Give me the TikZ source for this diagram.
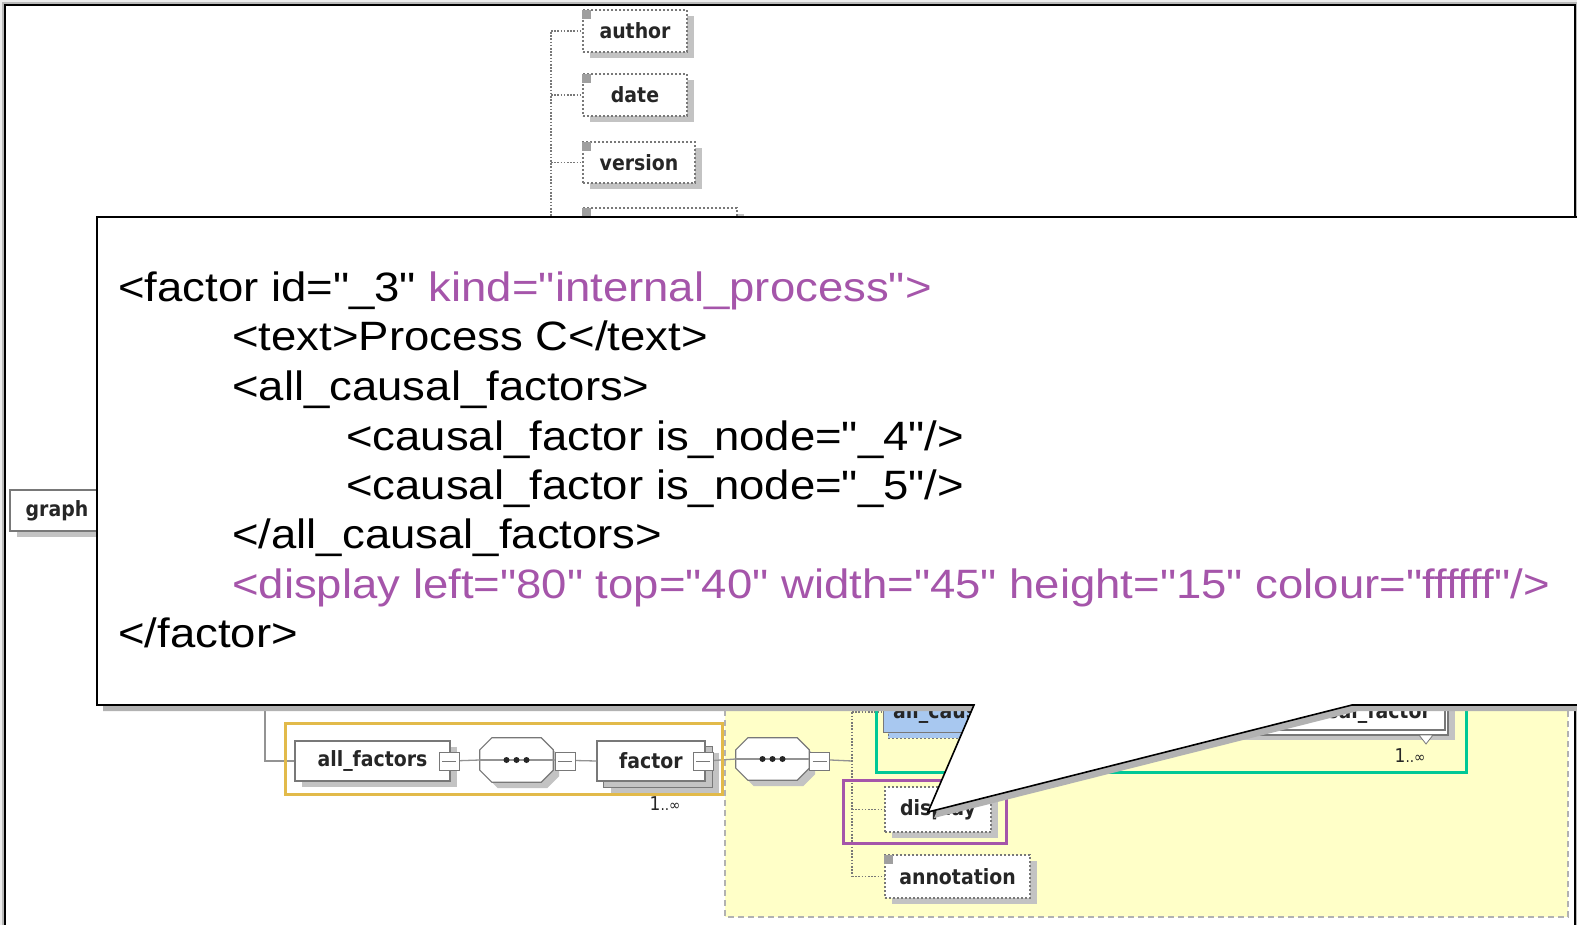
\documentclass[tikz,border=0pt]{standalone}
\usepackage{fontspec}
\setmainfont{Liberation Sans}
\newfontfamily\codefont[FakeStretch=1.11]{Liberation Sans}
\newfontfamily\lblfont[FakeStretch=0.9]{DejaVu Sans}
\usetikzlibrary{calc,shadows}

\definecolor{codepurple}{RGB}{165,85,170}
\definecolor{goldline}{RGB}{226,186,74}
\definecolor{tealline}{RGB}{0,200,150}
\definecolor{schemayellow}{RGB}{255,255,200}
\definecolor{elemblue}{RGB}{168,200,240}
\definecolor{boxgray}{RGB}{120,120,120}
\definecolor{shadowgray}{RGB}{195,195,195}

\tikzset{
  elem/.style={draw=boxgray, line width=1.2pt, fill=white, inner sep=0pt,
    font=\lblfont\bfseries\fontsize{21}{21}\selectfont, text=black!85,
    drop shadow={shadow xshift=7pt, shadow yshift=-6pt, fill=shadowgray, opacity=1}},
  optelem/.style={elem, dash pattern=on 2pt off 2pt},
  plainbox/.style={draw=boxgray, line width=1.2pt, fill=white, inner sep=0pt},
  toggle/.style={draw=boxgray, line width=1pt, fill=white, minimum width=20pt,
    minimum height=18pt, inner sep=0pt,
    path picture={\draw[boxgray, line width=0.8pt]
      ([xshift=3pt]path picture bounding box.west) -- ([xshift=-3pt]path picture bounding box.east);}},
  seqslot/.style={inner sep=0pt, draw=none},
  octo/.style={draw=boxgray, line width=1.2pt, fill=white, line join=miter},
  octoshadow/.style={fill=shadowgray},
  conn/.style={draw=boxgray!80, line width=1.3pt},
  dotconn/.style={draw=boxgray, line width=1.2pt, dash pattern=on 1.6pt off 1.6pt},
  code/.style={font=\codefont\fontsize{41}{49}\selectfont, inner sep=0pt, anchor=base west},
  lbltext/.style={font=\lblfont\bfseries\fontsize{21}{21}\selectfont, text=black!85, inner sep=0pt},
  mult/.style={font=\lblfont, text=black!85, inner sep=0pt},
  marker/.style={fill=gray!75},
  hilite/.style={line width=3pt}
}

% octagonal compositor outline around a named slot, offset by (#2,#3)
\newcommand\octagonpath[3]{%
  ($(#1.north west)+(#2,#3)+(0,12)$) -- ($(#1.north west)+(#2,#3)+(12,0)$) --
  ($(#1.north east)+(#2,#3)+(-12,0)$) -- ($(#1.north east)+(#2,#3)+(0,12)$) --
  ($(#1.south east)+(#2,#3)+(0,-12)$) -- ($(#1.south east)+(#2,#3)+(-12,0)$) --
  ($(#1.south west)+(#2,#3)+(12,0)$) -- ($(#1.south west)+(#2,#3)+(0,-12)$) -- cycle}

\begin{document}
\begin{tikzpicture}[x=1pt,y=-1pt]
\useasboundingbox (0,0) rectangle (1577,925);

% page background and frame
\fill[gray!15] (0,0) rectangle (1577,925);
\fill[white] (5,5) rectangle (1575,930);
\draw[gray!55, line width=3pt] (3.5,935) -- (3.5,3.5) -- (1576.5,3.5) -- (1576.5,935);
\draw[black, line width=1.3pt] (5,935) -- (5,5) -- (1575,5) -- (1575,935);

% shaded group of the factor content
\fill[schemayellow] (725,640) rectangle (1568,917);
\draw[gray!60, line width=1.2pt, dash pattern=on 6pt off 4pt] (725,640) -- (725,917) -- (1568,917) -- (1568,640);

% header elements
\coordinate (spinetop) at (551,32);
\coordinate (spinebot) at (551,260);
\draw[dotconn] (spinetop) -- (spinebot);

\node[optelem, minimum width=104pt, minimum height=42pt] (author) at (635,31) {author};
\node[optelem, minimum width=104pt, minimum height=42pt] (date) at (635,95) {date};
\node[optelem, minimum width=112pt, minimum height=41pt] (version) at (639,162.5) {version};
\node[optelem, minimum width=154pt, minimum height=42pt] (fourth) at (660,229) {};
\foreach \n in {author,date,version,fourth}{
  \fill[marker] ([yshift=-1pt]\n.north west) rectangle ++(9,9);
  \draw[dotconn] (spinetop |- \n.west) -- (\n.west);
}

% root element
\node[elem, minimum width=94pt, minimum height=41pt] (graph) at (57,510.5) {graph};

% all_factors branch
\node[elem, minimum width=155pt, minimum height=40pt] (allf) at (372.5,761) {all\_factors\hspace{14pt}};
\node[seqslot, minimum width=73pt, minimum height=44pt] (seqa) at (516.5,760) {};
\node[plainbox, minimum width=108pt, minimum height=40pt,
  drop shadow={shadow xshift=7pt, shadow yshift=-6pt, fill=shadowgray, opacity=1}] (factorback) at (658,767) {};
\node[elem, minimum width=108pt, minimum height=40pt] (factor) at (651,761) {factor\hspace{16pt}};
\node[mult] (factorm) at (665,804) {{\fontsize{19}{19}\selectfont 1}{\fontsize{15}{15}\selectfont ..∞}};
\node[seqslot, minimum width=73pt, minimum height=42pt] (seqb) at (772.5,759) {};

\foreach \s in {seqa,seqb}{
  \fill[octoshadow] \octagonpath{\s}{6}{6};
  \filldraw[octo] \octagonpath{\s}{0}{0};
}

\coordinate (rootdrop) at (265,690);
\coordinate (spine2top) at (852,690);
\coordinate (spine2bot) at (852,877);
\coordinate (spine2mid) at (852,761);

\draw[conn] (rootdrop) |- (allf.west);
\draw[conn] (allf.east) -- (seqa.west);
\draw[conn] (seqa.west) -- (seqa.east);
\draw[conn] (seqa.east) -- (factor.west);
\draw[conn] (factor.east) -- (seqb.west);
\draw[conn] (seqb.west) -- (seqb.east);
\draw[conn] (seqb.east) -- (spine2mid);
\node[toggle] (allft) at (449,761) {};
\node[toggle] (seqat) at (565,761) {};
\node[toggle] (factort) at (703,761) {};
\node[toggle] (seqbt) at (819.5,761) {};
\foreach \s in {seqa,seqb}{
  \foreach \dx in {-10,0,10} \fill[black!85] ([xshift=\dx pt]\s.center) circle (3pt);
}
\draw[dotconn] (spine2top) -- (spine2bot);

% children of factor
\node[draw=boxgray, line width=1pt, fill=elemblue, dash pattern=on 2pt off 2pt,
  minimum width=200pt, minimum height=72pt] (allcfback) at (988,702) {};
\node[draw=boxgray, line width=1pt, fill=elemblue, minimum width=200pt, minimum height=72pt] (allcf) at (983,696) {};
\node[lbltext, anchor=base west] (allcflbl) at (893,718) {all\_causal\_factors};
\draw[dotconn] (spine2top |- 0,712) -- (allcf.west |- 0,712);

\node[plainbox, minimum width=240pt, minimum height=70pt,
  drop shadow={shadow xshift=7pt, shadow yshift=-5pt, fill=shadowgray, opacity=1}] (cfback) at (1328,700) {};
\node[plainbox, minimum width=240pt, minimum height=70pt] (cf) at (1325,695) {};
\node[lbltext, anchor=base east] (cflbl) at (1431,718) {causal\_factor};
\draw[boxgray, line width=0.8pt, fill=white] (1419,735) -- (1433,735) -- (1426,744) -- cycle;
\node[mult] (cfm) at (1410,756) {{\fontsize{19}{19}\selectfont 1}{\fontsize{15}{15}\selectfont ..∞}};
\draw[tealline, hilite] (876,650) rectangle (1466,772);

\node[optelem, minimum width=106pt, minimum height=45pt] (display) at (938,809.5) {display};
\draw[dotconn] (spine2top |- display.west) -- (display.west);
\node[optelem, minimum width=145pt, minimum height=43pt] (annot) at (957.5,876.5) {annotation};
\fill[marker] ([yshift=-1pt]annot.north west) rectangle ++(9,9);
\draw[dotconn] (spine2top |- annot.west) -- (annot.west);

% highlight frames
\draw[goldline, hilite] (285,723) rectangle (722,794);
\draw[codepurple, hilite] (843,780) rectangle (1006,843);

% callout with its shadow
\fill[gray!60, shift={(6,6)}] (97,217) -- (1600,217) -- (1600,705) -- (1352,705) -- (928,812) -- (974,705) -- (97,705) -- cycle;
\filldraw[fill=white, draw=black, line width=1.6pt, line join=miter]
  (97,217) -- (1600,217) -- (1600,705) -- (1352,705) -- (928,812) -- (974,705) -- (97,705) -- cycle;

% XML listing
\node[code] (l1) at (118,302) {<factor id="\_3" \textcolor{codepurple}{kind="internal\_process">}};
\node[code] (l2) at (232,351) {<text>Process C</text>};
\node[code] (l3) at (232,400) {<all\_causal\_factors>};
\node[code] (l4) at (346,450) {<causal\_factor is\_node="\_4"/>};
\node[code] (l5) at (346,499) {<causal\_factor is\_node="\_5"/>};
\node[code] (l6) at (232,548) {</all\_causal\_factors>};
\node[code, text=codepurple] (l7) at (232,598) {<display left="80" top="40" width="45" height="15" colour="ffffff"/>};
\node[code] (l8) at (118,647) {</factor>};
\end{tikzpicture}
\end{document}
